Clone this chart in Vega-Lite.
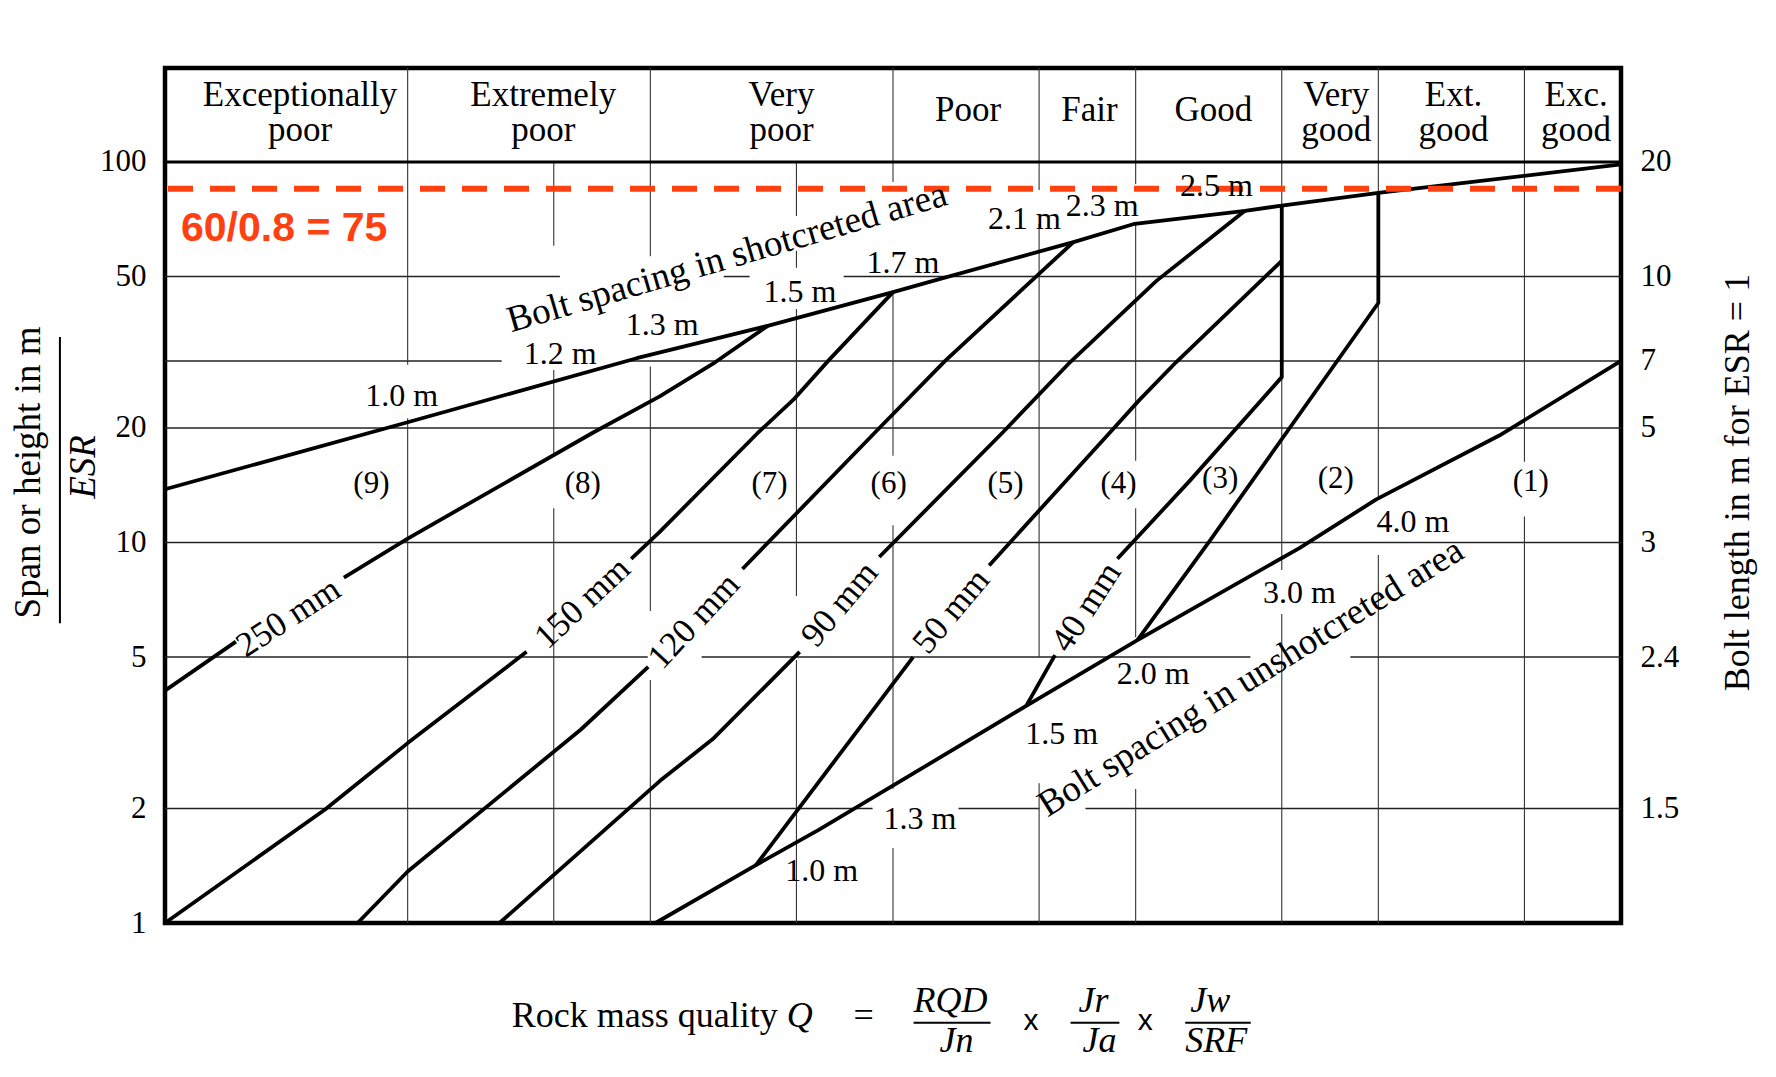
{
  "$schema": "https://vega.github.io/schema/vega-lite/v6.json",
  "width": 1456,
  "height": 855,
  "autosize": {"type": "none"},
  "padding": {"left": 165, "top": 68, "right": 155, "bottom": 154},
  "background": "white",
  "config": {
    "view": {"stroke": "#000", "strokeWidth": 4.5},
    "font": "Liberation Serif",
    "text": {"font": "Liberation Serif", "color": "#000"}
  },
  "datasets": {
    "hgrid": [
      {"y": 50, "q1": 0.001, "q2": 0.0424}, {"y": 50, "q1": 0.2006, "q2": 0.2566}, {"y": 50, "q1": 0.626, "q2": 1000},
      {"y": 30, "q1": 0.001, "q2": 0.0244}, {"y": 30, "q1": 0.0807, "q2": 1000},
      {"y": 20, "q1": 0.001, "q2": 1000},
      {"y": 10, "q1": 0.001, "q2": 1000},
      {"y": 5, "q1": 0.001, "q2": 0.0976}, {"y": 5, "q1": 0.1627, "q2": 29.7}, {"y": 5, "q1": 76.7, "q2": 1000},
      {"y": 2, "q1": 0.001, "q2": 0.824}, {"y": 2, "q1": 1.862, "q2": 4.01}, {"y": 2, "q1": 6.21, "q2": 1000}
    ],
    "vgrid": [
      {"q": 0.01, "y1": 100, "y2": 176.6}, {"q": 0.1, "y1": 100, "y2": 176.6}, {"q": 1, "y1": 100, "y2": 176.6},
      {"q": 4, "y1": 100, "y2": 176.6}, {"q": 10, "y1": 100, "y2": 176.6}, {"q": 40, "y1": 100, "y2": 176.6},
      {"q": 100, "y1": 100, "y2": 176.6}, {"q": 400, "y1": 100, "y2": 176.6},
      {"q": 0.01, "y1": 29.3, "y2": 100}, {"q": 0.01, "y1": 1, "y2": 21.2},
      {"q": 0.04, "y1": 60.2, "y2": 100}, {"q": 0.04, "y1": 16.9, "y2": 28.4}, {"q": 0.04, "y1": 1, "y2": 12.3},
      {"q": 0.1, "y1": 56.5, "y2": 100}, {"q": 0.1, "y1": 6.61, "y2": 29.0}, {"q": 0.1, "y1": 1, "y2": 4.35},
      {"q": 0.4, "y1": 72.1, "y2": 100}, {"q": 0.4, "y1": 52.7, "y2": 58.4}, {"q": 0.4, "y1": 7.23, "y2": 41.1}, {"q": 0.4, "y1": 1, "y2": 4.91},
      {"q": 1, "y1": 88.6, "y2": 100}, {"q": 1, "y1": 16.9, "y2": 45.5}, {"q": 1, "y1": 2.25, "y2": 11.1}, {"q": 1, "y1": 1, "y2": 1.575},
      {"q": 4, "y1": 84.4, "y2": 100}, {"q": 4, "y1": 5.0, "y2": 68.7}, {"q": 4, "y1": 1, "y2": 2.33},
      {"q": 10, "y1": 87.5, "y2": 100}, {"q": 10, "y1": 16.4, "y2": 69.1}, {"q": 10, "y1": 5.64, "y2": 12.3}, {"q": 10, "y1": 1, "y2": 2.25},
      {"q": 40, "y1": 8.47, "y2": 100}, {"q": 40, "y1": 1, "y2": 6.49},
      {"q": 100, "y1": 13.0, "y2": 100}, {"q": 100, "y1": 1, "y2": 9.27},
      {"q": 400, "y1": 16.3, "y2": 100}, {"q": 400, "y1": 1, "y2": 11.7}
    ],
    "curves": [
      {"id": "U", "o": 1, "q": 0.001, "y": 13.8}, {"id": "U", "o": 2, "q": 0.01, "y": 20.7},
      {"id": "U", "o": 3, "q": 0.0879, "y": 30.5}, {"id": "U", "o": 4, "q": 0.3045, "y": 37.1},
      {"id": "U", "o": 5, "q": 1, "y": 45.5}, {"id": "U", "o": 6, "q": 1.513, "y": 49.0},
      {"id": "U", "o": 7, "q": 5.54, "y": 61.6}, {"id": "U", "o": 8, "q": 9.92, "y": 68.8},
      {"id": "U", "o": 9, "q": 28.2, "y": 74.4}, {"id": "U", "o": 10, "q": 40, "y": 76.8},
      {"id": "U", "o": 11, "q": 100, "y": 82.9}, {"id": "U", "o": 12, "q": 1000, "y": 98.5},
      {"id": "250a", "o": 1, "q": 0.001, "y": 4.08}, {"id": "250a", "o": 2, "q": 0.00196, "y": 5.49},
      {"id": "250b", "o": 1, "q": 0.00546, "y": 8.09}, {"id": "250b", "o": 2, "q": 0.01, "y": 10.24},
      {"id": "250b", "o": 3, "q": 0.0577, "y": 19.4}, {"id": "250b", "o": 4, "q": 0.1093, "y": 24.2},
      {"id": "250b", "o": 5, "q": 0.1856, "y": 29.8}, {"id": "250b", "o": 6, "q": 0.3045, "y": 37.1},
      {"id": "150a", "o": 1, "q": 0.001, "y": 1}, {"id": "150a", "o": 2, "q": 0.00458, "y": 1.99},
      {"id": "150a", "o": 3, "q": 0.01, "y": 2.97}, {"id": "150a", "o": 4, "q": 0.0309, "y": 5.16},
      {"id": "150b", "o": 1, "q": 0.0834, "y": 9.06}, {"id": "150b", "o": 2, "q": 0.1093, "y": 10.66},
      {"id": "150b", "o": 3, "q": 0.277, "y": 19.4}, {"id": "150b", "o": 4, "q": 0.3878, "y": 23.7},
      {"id": "150b", "o": 5, "q": 0.543, "y": 30.1}, {"id": "150b", "o": 6, "q": 1, "y": 45.5},
      {"id": "120a", "o": 1, "q": 0.00622, "y": 1}, {"id": "120a", "o": 2, "q": 0.01, "y": 1.366},
      {"id": "120a", "o": 3, "q": 0.0516, "y": 3.22}, {"id": "120a", "o": 4, "q": 0.098, "y": 4.71},
      {"id": "120b", "o": 1, "q": 0.2397, "y": 8.52}, {"id": "120b", "o": 2, "q": 0.839, "y": 19.4},
      {"id": "120b", "o": 3, "q": 1.64, "y": 30}, {"id": "120b", "o": 4, "q": 3.72, "y": 48.7},
      {"id": "120b", "o": 5, "q": 5.54, "y": 61.6},
      {"id": "90a", "o": 1, "q": 0.0239, "y": 1}, {"id": "90a", "o": 2, "q": 0.1093, "y": 2.36},
      {"id": "90a", "o": 3, "q": 0.1825, "y": 3.06}, {"id": "90a", "o": 4, "q": 0.4125, "y": 5.16},
      {"id": "90b", "o": 1, "q": 0.878, "y": 9.16}, {"id": "90b", "o": 2, "q": 2.818, "y": 19.4},
      {"id": "90b", "o": 3, "q": 5.375, "y": 29.8}, {"id": "90b", "o": 4, "q": 12.18, "y": 48.7},
      {"id": "90b", "o": 5, "q": 28.2, "y": 74.4},
      {"id": "50a", "o": 1, "q": 0.2724, "y": 1.42}, {"id": "50a", "o": 2, "q": 1.21, "y": 5.0},
      {"id": "50b", "o": 1, "q": 2.49, "y": 8.70}, {"id": "50b", "o": 2, "q": 7.80, "y": 19.4},
      {"id": "50b", "o": 3, "q": 10.37, "y": 23.7}, {"id": "50b", "o": 4, "q": 14.7, "y": 29.8},
      {"id": "50b", "o": 5, "q": 40, "y": 55},
      {"id": "40a", "o": 1, "q": 3.54, "y": 3.72}, {"id": "40a", "o": 2, "q": 4.65, "y": 5.06},
      {"id": "40b", "o": 1, "q": 8.41, "y": 9.06}, {"id": "40b", "o": 2, "q": 16.66, "y": 14.5},
      {"id": "40b", "o": 3, "q": 40, "y": 27.2}, {"id": "40b", "o": 4, "q": 40, "y": 76.8},
      {"id": "L3", "o": 1, "q": 10.17, "y": 5.54}, {"id": "L3", "o": 2, "q": 20.3, "y": 10.15},
      {"id": "L3", "o": 3, "q": 100, "y": 42.6}, {"id": "L3", "o": 4, "q": 100, "y": 82.9},
      {"id": "LE", "o": 1, "q": 0.105, "y": 1}, {"id": "LE", "o": 2, "q": 0.2724, "y": 1.42},
      {"id": "LE", "o": 3, "q": 0.494, "y": 1.756}, {"id": "LE", "o": 4, "q": 1.015, "y": 2.31},
      {"id": "LE", "o": 5, "q": 3.54, "y": 3.72}, {"id": "LE", "o": 6, "q": 10.17, "y": 5.54},
      {"id": "LE", "o": 7, "q": 47.3, "y": 9.67}, {"id": "LE", "o": 8, "q": 98.1, "y": 12.98},
      {"id": "LE", "o": 9, "q": 315, "y": 19.1}, {"id": "LE", "o": 10, "q": 1000, "y": 30}
    ],
    "headerTop": [
      {"label": "Exceptionally", "q": 0.0036},
      {"label": "Extremely", "q": 0.0362},
      {"label": "Very", "q": 0.347},
      {"label": "Very", "q": 67.1},
      {"label": "Ext.", "q": 204},
      {"label": "Exc.", "q": 653}
    ],
    "headerBottom": [
      {"label": "poor", "q": 0.0036},
      {"label": "poor", "q": 0.0362},
      {"label": "poor", "q": 0.347},
      {"label": "good", "q": 67.1},
      {"label": "good", "q": 204},
      {"label": "good", "q": 653}
    ],
    "headerOne": [
      {"label": "Poor", "q": 2.04},
      {"label": "Fair", "q": 6.45},
      {"label": "Good", "q": 20.9}
    ],
    "regions": [
      {"label": "(9)", "q": 0.00709, "y": 14.25}, {"label": "(8)", "q": 0.0527, "y": 14.25},
      {"label": "(7)", "q": 0.31, "y": 14.25}, {"label": "(6)", "q": 0.96, "y": 14.25},
      {"label": "(5)", "q": 2.91, "y": 14.25}, {"label": "(4)", "q": 8.5, "y": 14.25},
      {"label": "(3)", "q": 22.3, "y": 14.7}, {"label": "(2)", "q": 66.8, "y": 14.7},
      {"label": "(1)", "q": 425, "y": 14.4}
    ],
    "spacing": [
      {"label": "1.0 m", "q": 0.00944, "y": 24.3}, {"label": "1.2 m", "q": 0.0425, "y": 31.2},
      {"label": "1.3 m", "q": 0.112, "y": 37.2}, {"label": "1.5 m", "q": 0.4135, "y": 45.5},
      {"label": "1.7 m", "q": 1.099, "y": 54.2}, {"label": "2.1 m", "q": 3.48, "y": 70.7},
      {"label": "2.3 m", "q": 7.28, "y": 76.7}, {"label": "2.5 m", "q": 21.5, "y": 86.5},
      {"label": "1.0 m", "q": 0.508, "y": 1.366}, {"label": "1.3 m", "q": 1.29, "y": 1.876},
      {"label": "1.5 m", "q": 4.96, "y": 3.13}, {"label": "2.0 m", "q": 11.8, "y": 4.52},
      {"label": "3.0 m", "q": 47.3, "y": 7.38}, {"label": "4.0 m", "q": 139, "y": 11.3}
    ],
    "formulaItalic": [
      {"label": "Q", "q": 0.4125, "y": 0.533},
      {"label": "RQD", "q": 1.727, "y": 0.584}, {"label": "Jn", "q": 1.828, "y": 0.458},
      {"label": "Jr", "q": 6.70, "y": 0.584}, {"label": "Ja", "q": 7.10, "y": 0.458},
      {"label": "Jw", "q": 20.3, "y": 0.584}, {"label": "SRF", "q": 21.5, "y": 0.458}
    ],
    "formulaBars": [
      {"q1": 1.216, "q2": 2.523, "y": 0.547},
      {"q1": 5.39, "q2": 8.57, "y": 0.547},
      {"q1": 16.0, "q2": 29.8, "y": 0.547}
    ]
  },
  "resolve": {"axis": {"y": "independent"}},
  "layer": [
    {
      "data": {"name": "hgrid"},
      "mark": {"type": "rule", "color": "#222", "strokeWidth": 1.5},
      "encoding": {
        "x": {
          "field": "q1", "type": "quantitative",
          "scale": {"type": "log", "domain": [0.001, 1000], "nice": false},
          "axis": {
            "orient": "bottom",
            "values": [0.001, 0.004, 0.01, 0.04, 0.1, 0.4, 1, 4, 10, 40, 100, 400, 1000],
            "format": "~g", "grid": false, "ticks": false, "domain": false,
            "labelFont": "Liberation Serif", "labelFontSize": 31, "labelColor": "#000",
            "labelPadding": 14, "labelOverlap": false, "labelFlush": false,
            "labelOffset": {"condition": {"test": "datum.value < 0.002", "value": 19}, "value": 0},
            "title": null
          }
        },
        "x2": {"field": "q2"},
        "y": {
          "field": "y", "type": "quantitative",
          "scale": {"type": "log", "domain": [1, 176.6], "nice": false},
          "axis": {
            "orient": "left",
            "values": [1, 2, 5, 10, 20, 50, 100],
            "format": "~g", "grid": false, "ticks": false, "domain": false,
            "labelFont": "Liberation Serif", "labelFontSize": 31, "labelColor": "#000",
            "labelPadding": 19, "labelOverlap": false,
            "title": "Span or height in m",
            "titleFont": "Liberation Serif", "titleFontSize": 37, "titleFontWeight": "normal",
            "titleColor": "#000", "titleAngle": 270, "titleX": -137, "titleY": 404,
            "titleAlign": "center", "titleBaseline": "middle"
          }
        }
      }
    },
    {
      "data": {"name": "vgrid"},
      "mark": {"type": "rule", "color": "#333", "strokeWidth": 1.1},
      "encoding": {
        "x": {"field": "q", "type": "quantitative", "scale": {"type": "log", "domain": [0.001, 1000], "nice": false}, "axis": null},
        "y": {
          "field": "y1", "type": "quantitative",
          "scale": {"type": "log", "domain": [1, 176.6], "nice": false},
          "axis": {
            "orient": "right",
            "values": [2, 5, 10, 20, 30, 50, 100],
            "labelExpr": "datum.value == 100 ? '20' : datum.value == 50 ? '10' : datum.value == 30 ? '7' : datum.value == 20 ? '5' : datum.value == 10 ? '3' : datum.value == 5 ? '2.4' : '1.5'",
            "grid": false, "ticks": false, "domain": false,
            "labelFont": "Liberation Serif", "labelFontSize": 31, "labelColor": "#000",
            "labelPadding": 19, "labelOverlap": false,
            "title": "Bolt length in m for ESR = 1",
            "titleFont": "Liberation Serif", "titleFontSize": 36, "titleFontWeight": "normal",
            "titleColor": "#000", "titleAngle": 270, "titleX": 116, "titleY": 414,
            "titleAlign": "center", "titleBaseline": "middle"
          }
        },
        "y2": {"field": "y2"}
      }
    },
    {
      "data": {"values": [{}]},
      "mark": {"type": "rule", "color": "#000", "strokeWidth": 3},
      "encoding": {
        "y": {"datum": 100, "type": "quantitative", "scale": {"type": "log", "domain": [1, 176.6], "nice": false}, "axis": null}
      }
    },
    {
      "data": {"name": "curves"},
      "mark": {"type": "line", "color": "#000", "strokeWidth": 3.8, "strokeJoin": "round", "strokeCap": "butt"},
      "encoding": {
        "x": {"field": "q", "type": "quantitative", "scale": {"type": "log", "domain": [0.001, 1000], "nice": false}, "axis": null},
        "y": {"field": "y", "type": "quantitative", "scale": {"type": "log", "domain": [1, 176.6], "nice": false}, "axis": null},
        "detail": {"field": "id", "type": "nominal"},
        "order": {"field": "o", "type": "quantitative"}
      }
    },
    {
      "data": {"values": [{}]},
      "mark": {"type": "rule", "color": "#ff4010", "strokeWidth": 6, "strokeDash": [25, 17]},
      "encoding": {
        "y": {"datum": 85.1, "type": "quantitative", "scale": {"type": "log", "domain": [1, 176.6], "nice": false}, "axis": null}
      }
    },
    {
      "data": {"values": [{"label": "60/0.8 = 75", "q": 0.001164, "y": 62.0}]},
      "mark": {"type": "text", "font": "Liberation Sans", "fontWeight": "bold", "fontSize": 41, "color": "#ff4010", "align": "left", "baseline": "alphabetic"},
      "encoding": {
        "x": {"field": "q", "type": "quantitative", "scale": {"type": "log", "domain": [0.001, 1000], "nice": false}, "axis": null},
        "y": {"field": "y", "type": "quantitative", "scale": {"type": "log", "domain": [1, 176.6], "nice": false}, "axis": null},
        "text": {"field": "label"}
      }
    },
    {
      "data": {"name": "headerTop"},
      "mark": {"type": "text", "fontSize": 35, "align": "center", "baseline": "middle"},
      "encoding": {
        "x": {"field": "q", "type": "quantitative", "scale": {"type": "log", "domain": [0.001, 1000], "nice": false}, "axis": null},
        "y": {"datum": 150, "type": "quantitative", "scale": {"type": "log", "domain": [1, 176.6], "nice": false}, "axis": null},
        "text": {"field": "label"}
      }
    },
    {
      "data": {"name": "headerBottom"},
      "mark": {"type": "text", "fontSize": 35, "align": "center", "baseline": "middle"},
      "encoding": {
        "x": {"field": "q", "type": "quantitative", "scale": {"type": "log", "domain": [0.001, 1000], "nice": false}, "axis": null},
        "y": {"datum": 121.1, "type": "quantitative", "scale": {"type": "log", "domain": [1, 176.6], "nice": false}, "axis": null},
        "text": {"field": "label"}
      }
    },
    {
      "data": {"name": "headerOne"},
      "mark": {"type": "text", "fontSize": 35, "align": "center", "baseline": "middle"},
      "encoding": {
        "x": {"field": "q", "type": "quantitative", "scale": {"type": "log", "domain": [0.001, 1000], "nice": false}, "axis": null},
        "y": {"datum": 137, "type": "quantitative", "scale": {"type": "log", "domain": [1, 176.6], "nice": false}, "axis": null},
        "text": {"field": "label"}
      }
    },
    {
      "data": {"name": "regions"},
      "mark": {"type": "text", "fontSize": 31, "align": "center", "baseline": "middle"},
      "encoding": {
        "x": {"field": "q", "type": "quantitative", "scale": {"type": "log", "domain": [0.001, 1000], "nice": false}, "axis": null},
        "y": {"field": "y", "type": "quantitative", "scale": {"type": "log", "domain": [1, 176.6], "nice": false}, "axis": null},
        "text": {"field": "label"}
      }
    },
    {
      "data": {"name": "spacing"},
      "mark": {"type": "text", "fontSize": 32, "align": "center", "baseline": "middle"},
      "encoding": {
        "x": {"field": "q", "type": "quantitative", "scale": {"type": "log", "domain": [0.001, 1000], "nice": false}, "axis": null},
        "y": {"field": "y", "type": "quantitative", "scale": {"type": "log", "domain": [1, 176.6], "nice": false}, "axis": null},
        "text": {"field": "label"}
      }
    },
    {
      "data": {"values": [{"label": "250 mm", "q": 0.00322, "y": 6.36}]},
      "mark": {"type": "text", "fontSize": 35, "align": "center", "baseline": "middle", "angle": 327},
      "encoding": {
        "x": {"field": "q", "type": "quantitative", "scale": {"type": "log", "domain": [0.001, 1000], "nice": false}, "axis": null},
        "y": {"field": "y", "type": "quantitative", "scale": {"type": "log", "domain": [1, 176.6], "nice": false}, "axis": null},
        "text": {"field": "label"}
      }
    },
    {
      "data": {"values": [{"label": "150 mm", "q": 0.0524, "y": 6.94}]},
      "mark": {"type": "text", "fontSize": 35, "align": "center", "baseline": "middle", "angle": 317},
      "encoding": {
        "x": {"field": "q", "type": "quantitative", "scale": {"type": "log", "domain": [0.001, 1000], "nice": false}, "axis": null},
        "y": {"field": "y", "type": "quantitative", "scale": {"type": "log", "domain": [1, 176.6], "nice": false}, "axis": null},
        "text": {"field": "label"}
      }
    },
    {
      "data": {"values": [{"label": "120 mm", "q": 0.151, "y": 6.22}]},
      "mark": {"type": "text", "fontSize": 35, "align": "center", "baseline": "middle", "angle": 313},
      "encoding": {
        "x": {"field": "q", "type": "quantitative", "scale": {"type": "log", "domain": [0.001, 1000], "nice": false}, "axis": null},
        "y": {"field": "y", "type": "quantitative", "scale": {"type": "log", "domain": [1, 176.6], "nice": false}, "axis": null},
        "text": {"field": "label"}
      }
    },
    {
      "data": {"values": [{"label": "90 mm", "q": 0.6026, "y": 6.89}]},
      "mark": {"type": "text", "fontSize": 35, "align": "center", "baseline": "middle", "angle": 310},
      "encoding": {
        "x": {"field": "q", "type": "quantitative", "scale": {"type": "log", "domain": [0.001, 1000], "nice": false}, "axis": null},
        "y": {"field": "y", "type": "quantitative", "scale": {"type": "log", "domain": [1, 176.6], "nice": false}, "axis": null},
        "text": {"field": "label"}
      }
    },
    {
      "data": {"values": [{"label": "50 mm", "q": 1.735, "y": 6.6}]},
      "mark": {"type": "text", "fontSize": 35, "align": "center", "baseline": "middle", "angle": 310},
      "encoding": {
        "x": {"field": "q", "type": "quantitative", "scale": {"type": "log", "domain": [0.001, 1000], "nice": false}, "axis": null},
        "y": {"field": "y", "type": "quantitative", "scale": {"type": "log", "domain": [1, 176.6], "nice": false}, "axis": null},
        "text": {"field": "label"}
      }
    },
    {
      "data": {"values": [{"label": "40 mm", "q": 6.25, "y": 6.77}]},
      "mark": {"type": "text", "fontSize": 35, "align": "center", "baseline": "middle", "angle": 303},
      "encoding": {
        "x": {"field": "q", "type": "quantitative", "scale": {"type": "log", "domain": [0.001, 1000], "nice": false}, "axis": null},
        "y": {"field": "y", "type": "quantitative", "scale": {"type": "log", "domain": [1, 176.6], "nice": false}, "axis": null},
        "text": {"field": "label"}
      }
    },
    {
      "data": {"values": [{"label": "Bolt spacing in shotcreted area", "q": 0.2074, "y": 56.0}]},
      "mark": {"type": "text", "fontSize": 37, "align": "center", "baseline": "middle", "angle": 343.7},
      "encoding": {
        "x": {"field": "q", "type": "quantitative", "scale": {"type": "log", "domain": [0.001, 1000], "nice": false}, "axis": null},
        "y": {"field": "y", "type": "quantitative", "scale": {"type": "log", "domain": [1, 176.6], "nice": false}, "axis": null},
        "text": {"field": "label"}
      }
    },
    {
      "data": {"values": [{"label": "Bolt spacing in unshotcreted area", "q": 29.85, "y": 4.41}]},
      "mark": {"type": "text", "fontSize": 37, "align": "center", "baseline": "middle", "angle": 328.1},
      "encoding": {
        "x": {"field": "q", "type": "quantitative", "scale": {"type": "log", "domain": [0.001, 1000], "nice": false}, "axis": null},
        "y": {"field": "y", "type": "quantitative", "scale": {"type": "log", "domain": [1, 176.6], "nice": false}, "axis": null},
        "text": {"field": "label"}
      }
    },
    {
      "data": {"values": [{"label": "Rock mass quality", "q": 0.335, "y": 0.533}]},
      "mark": {"type": "text", "fontSize": 36, "align": "right", "baseline": "alphabetic"},
      "encoding": {
        "x": {"field": "q", "type": "quantitative", "scale": {"type": "log", "domain": [0.001, 1000], "nice": false}, "axis": null},
        "y": {"field": "y", "type": "quantitative", "scale": {"type": "log", "domain": [1, 176.6], "nice": false}, "axis": null},
        "text": {"field": "label"}
      }
    },
    {
      "data": {"values": [{"label": "=", "q": 0.757, "y": 0.533}]},
      "mark": {"type": "text", "fontSize": 36, "align": "center", "baseline": "alphabetic"},
      "encoding": {
        "x": {"field": "q", "type": "quantitative", "scale": {"type": "log", "domain": [0.001, 1000], "nice": false}, "axis": null},
        "y": {"field": "y", "type": "quantitative", "scale": {"type": "log", "domain": [1, 176.6], "nice": false}, "axis": null},
        "text": {"field": "label"}
      }
    },
    {
      "data": {"name": "formulaItalic"},
      "mark": {"type": "text", "fontSize": 36, "fontStyle": "italic", "align": "center", "baseline": "alphabetic"},
      "encoding": {
        "x": {"field": "q", "type": "quantitative", "scale": {"type": "log", "domain": [0.001, 1000], "nice": false}, "axis": null},
        "y": {"field": "y", "type": "quantitative", "scale": {"type": "log", "domain": [1, 176.6], "nice": false}, "axis": null},
        "text": {"field": "label"}
      }
    },
    {
      "data": {"values": [{"label": "x", "q": 3.70, "y": 0.523}, {"label": "x", "q": 10.94, "y": 0.523}]},
      "mark": {"type": "text", "font": "Liberation Sans", "fontSize": 30, "align": "center", "baseline": "alphabetic"},
      "encoding": {
        "x": {"field": "q", "type": "quantitative", "scale": {"type": "log", "domain": [0.001, 1000], "nice": false}, "axis": null},
        "y": {"field": "y", "type": "quantitative", "scale": {"type": "log", "domain": [1, 176.6], "nice": false}, "axis": null},
        "text": {"field": "label"}
      }
    },
    {
      "data": {"name": "formulaBars"},
      "mark": {"type": "rule", "color": "#000", "strokeWidth": 2},
      "encoding": {
        "x": {"field": "q1", "type": "quantitative", "scale": {"type": "log", "domain": [0.001, 1000], "nice": false}, "axis": null},
        "x2": {"field": "q2"},
        "y": {"field": "y", "type": "quantitative", "scale": {"type": "log", "domain": [1, 176.6], "nice": false}, "axis": null}
      }
    },
    {
      "data": {"values": [{"label": "ESR", "q": 0.000462, "y": 15.8}]},
      "mark": {"type": "text", "fontSize": 37, "fontStyle": "italic", "align": "center", "baseline": "middle", "angle": 270},
      "encoding": {
        "x": {"field": "q", "type": "quantitative", "scale": {"type": "log", "domain": [0.001, 1000], "nice": false}, "axis": null},
        "y": {"field": "y", "type": "quantitative", "scale": {"type": "log", "domain": [1, 176.6], "nice": false}, "axis": null},
        "text": {"field": "label"}
      }
    },
    {
      "data": {"values": [{"q": 0.000369, "y1": 34.7, "y2": 6.13}]},
      "mark": {"type": "rule", "color": "#000", "strokeWidth": 2},
      "encoding": {
        "x": {"field": "q", "type": "quantitative", "scale": {"type": "log", "domain": [0.001, 1000], "nice": false}, "axis": null},
        "y": {"field": "y1", "type": "quantitative", "scale": {"type": "log", "domain": [1, 176.6], "nice": false}, "axis": null},
        "y2": {"field": "y2"}
      }
    }
  ]
}
